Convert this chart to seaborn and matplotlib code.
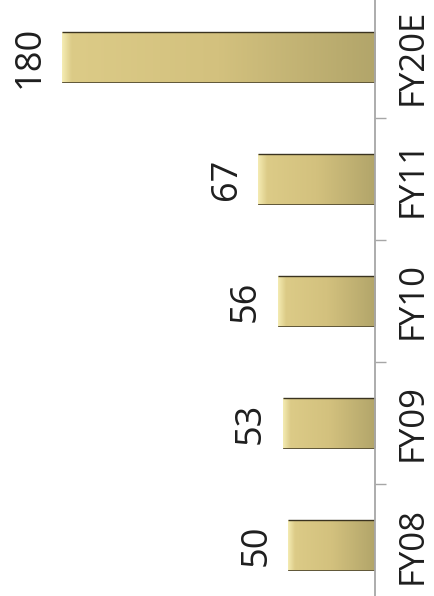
import matplotlib
matplotlib.use("Agg")
import matplotlib.pyplot as plt
from matplotlib.colors import LinearSegmentedColormap
import seaborn as sns
import numpy as np
import pandas as pd

# Data
categories = ["FY08", "FY09", "FY10", "FY11", "FY20E"]
values = [50, 53, 56, 67, 180]

sns.set_theme(style="white")
plt.rcParams['font.family'] = ['Open Sans', 'DejaVu Sans']

df = pd.DataFrame({"year": categories, "value": values})

fig = plt.figure(figsize=(4.35, 5.96), dpi=100)
ax = fig.add_axes([0, 0, 375 / 435, 1])

sns.barplot(data=df, x="value", y="year", order=categories, orient="h",
            color="#d4c27f", saturation=1, width=0.41,
            edgecolor="#5e5536", linewidth=0.7, ax=ax)

# bars grow to the left, FY08 at the bottom
ax.set_xlim(215.6, 0)
ax.set_ylim(-0.418, 4.467)

# soft bevel / gradient look on each bar
grad = np.linspace(0, 1, 256).reshape(1, -1)
for p in ax.patches:
    x0, y0 = p.get_x(), p.get_y()
    w, h = p.get_width(), p.get_height()
    bev = min(0.08, 9 / (w * 1.739))
    cmap = LinearSegmentedColormap.from_list(
        "bar", [(0, "#f4ebb2"), (bev, "#dccb87"), (0.5, "#d3c17e"), (1, "#b2a56a")])
    im = ax.imshow(grad, extent=(x0 + w, x0, y0, y0 + h), cmap=cmap,
                   aspect="auto", zorder=p.get_zorder() + 0.1, interpolation="bilinear")
    im.set_clip_path(p)
    ax.plot([x0, x0 + w], [y0 + h, y0 + h], color="#3a3320", lw=1.0,
            zorder=p.get_zorder() + 0.2, solid_capstyle="butt")
ax.set_xlim(215.6, 0)
ax.set_ylim(-0.418, 4.467)

# value labels, rotated like the rest of the chart
for i, v in enumerate(values):
    ax.annotate(str(v), (v, i), xytext=(-10, 0), textcoords="offset points",
                ha="right", va="center", rotation=90, fontsize=26, color="#1e1e1e")

ax.set_xlabel("")
ax.set_ylabel("")
ax.set_xticks([])
for s in ["left", "top", "bottom"]:
    ax.spines[s].set_visible(False)
ax.spines["right"].set_color("#a6a6a6")
ax.spines["right"].set_linewidth(1.3)

ax.yaxis.tick_right()
ax.set_yticks(range(len(categories)))
ax.set_yticklabels(categories, rotation=90, fontsize=25, color="#1e1e1e")
ax.set_yticks([0.5, 1.5, 2.5, 3.5], minor=True)
ax.tick_params(axis="y", which="major", length=0, pad=15)
ax.tick_params(axis="y", which="minor", length=8, width=1.0, color="#a6a6a6",
               right=True, left=False)
for lab in ax.get_yticklabels():
    lab.set_va("center")

fig.savefig("out.png", dpi=100)
